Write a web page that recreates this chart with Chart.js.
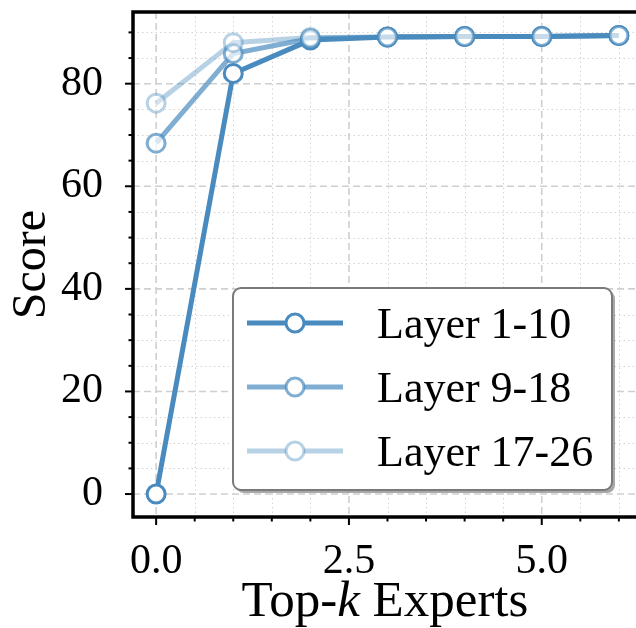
<!DOCTYPE html>
<html>
<head>
<meta charset="utf-8">
<script src="https://cdn.jsdelivr.net/npm/chart.js@4.4.0/dist/chart.umd.min.js"></script>
<style>
  html, body { margin: 0; padding: 0; background: #fff; overflow: hidden; }
  #wrap { width: 636px; height: 628px; overflow: hidden; }
</style>
</head>
<body>
<div id="wrap"><canvas id="chart" width="654" height="628"></canvas></div>
<script>
var TOP_K = [0, 1, 2, 3, 4, 5, 6];
var LAYER_1_10 = [0.0, 82.0, 88.5, 89.1, 89.2, 89.2, 89.4];
var LAYER_9_18 = [68.4, 85.9, 88.8, 89.1, 89.2, 89.2, 89.4];
var LAYER_17_26 = [76.2, 88.0, 89.0, 89.1, 89.2, 89.2, 89.4];

var SERIES_LABELS = ['Layer 1-10', 'Layer 9-18', 'Layer 17-26'];
var SERIES_ALPHA = [1.0, 0.7, 0.4];
var BASE_RGB = '74,139,191';

var X_TICKS = [0, 2.5, 5.0];
var Y_TICKS = [0, 20, 40, 60, 80];
var X_MINOR_STEP = 0.5;
var Y_MINOR_STEP = 5;

var SERIF = '"Liberation Serif", "Times New Roman", serif';

function rgba(a) { return 'rgba(' + BASE_RGB + ',' + a + ')'; }

function toPoints(ys) {
    return ys.map(function(y, i) { return {x: TOP_K[i], y: y}; });
}

function makeDataset(i, ys) {
    return {
        label: SERIES_LABELS[i],
        data: toPoints(ys),
        borderColor: rgba(SERIES_ALPHA[i]),
        borderWidth: 5,
        pointRadius: 9,
        pointBorderWidth: 3,
        pointBorderColor: rgba(SERIES_ALPHA[i]),
        pointBackgroundColor: 'rgba(255,255,255,' + SERIES_ALPHA[i] + ')',
        tension: 0,
        order: 3 - i
    };
}

// values between the axis limits on a step, used for minor ticks / dotted grid
function stepValues(scale, step) {
    var out = [];
    var start = Math.ceil(scale.min / step) * step;
    for (var v = start; v <= scale.max + 1e-9; v += step) out.push(Math.round(v * 1000) / 1000);
    return out;
}

var gridPlugin = {
    id: 'mplGrid',
    beforeDatasetsDraw: function(chart) {
        var c = chart.ctx, a = chart.chartArea;
        var xs = chart.scales.x, ys = chart.scales.y;
        c.save();
        // minor dotted
        c.strokeStyle = '#d4d4d4';
        c.lineWidth = 1;
        c.setLineDash([1.5, 3]);
        stepValues(xs, X_MINOR_STEP).forEach(function(v) {
            if (X_TICKS.indexOf(v) >= 0) return;
            var px = Math.round(xs.getPixelForValue(v)) + 0.5;
            c.beginPath(); c.moveTo(px, a.top); c.lineTo(px, a.bottom); c.stroke();
        });
        stepValues(ys, Y_MINOR_STEP).forEach(function(v) {
            if (Y_TICKS.indexOf(v) >= 0) return;
            var py = Math.round(ys.getPixelForValue(v)) + 0.5;
            c.beginPath(); c.moveTo(a.left, py); c.lineTo(a.right, py); c.stroke();
        });
        // major dashed
        c.strokeStyle = '#cfcfcf';
        c.lineWidth = 1.6;
        c.setLineDash([7, 4]);
        X_TICKS.forEach(function(v) {
            var px = xs.getPixelForValue(v);
            c.beginPath(); c.moveTo(px, a.top); c.lineTo(px, a.bottom); c.stroke();
        });
        Y_TICKS.forEach(function(v) {
            var py = ys.getPixelForValue(v);
            c.beginPath(); c.moveTo(a.left, py); c.lineTo(a.right, py); c.stroke();
        });
        c.restore();
    }
};

var framePlugin = {
    id: 'mplFrame',
    afterDatasetsDraw: function(chart) {
        var c = chart.ctx, a = chart.chartArea;
        var xs = chart.scales.x, ys = chart.scales.y;
        c.save();
        c.strokeStyle = '#000';
        c.lineWidth = 2;
        c.setLineDash([]);
        stepValues(xs, X_MINOR_STEP).forEach(function(v) {
            var len = X_TICKS.indexOf(v) >= 0 ? 8 : 4.5;
            var px = xs.getPixelForValue(v);
            c.beginPath(); c.moveTo(px, a.bottom); c.lineTo(px, a.bottom + len); c.stroke();
        });
        stepValues(ys, Y_MINOR_STEP).forEach(function(v) {
            var len = Y_TICKS.indexOf(v) >= 0 ? 8 : 4.5;
            var py = ys.getPixelForValue(v);
            c.beginPath(); c.moveTo(a.left, py); c.lineTo(a.left - len, py); c.stroke();
        });
        c.lineWidth = 3.5;
        c.strokeRect(a.left, a.top, a.right - a.left, a.bottom - a.top);
        c.restore();
    }
};

var xTitlePlugin = {
    id: 'xTitle',
    afterDraw: function(chart) {
        var c = chart.ctx;
        var parts = [['Top-', ''], ['k', 'italic '], [' Experts', '']];
        var size = 51;
        c.save();
        c.fillStyle = '#000';
        c.textBaseline = 'alphabetic';
        var total = 0;
        parts.forEach(function(p) { c.font = p[1] + size + 'px ' + SERIF; total += c.measureText(p[0]).width; });
        var x = 385 - total / 2;
        parts.forEach(function(p) {
            c.font = p[1] + size + 'px ' + SERIF;
            c.fillText(p[0], x, 616);
            x += c.measureText(p[0]).width;
        });
        c.restore();
    }
};

var legendPlugin = {
    id: 'boxLegend',
    afterDraw: function(chart) {
        var c = chart.ctx;
        var box = {x: 233, y: 288, w: 379, h: 202, r: 8};
        c.save();
        function rr(x, y, w, h, r) {
            c.beginPath();
            c.moveTo(x + r, y);
            c.arcTo(x + w, y, x + w, y + h, r);
            c.arcTo(x + w, y + h, x, y + h, r);
            c.arcTo(x, y + h, x, y, r);
            c.arcTo(x, y, x + w, y, r);
            c.closePath();
        }
        rr(box.x + 3, box.y + 3, box.w, box.h, box.r);
        c.fillStyle = 'rgba(110,110,110,0.6)';
        c.fill();
        rr(box.x, box.y, box.w, box.h, box.r);
        c.fillStyle = '#fff';
        c.fill();
        c.strokeStyle = '#7a7a7a';
        c.lineWidth = 2;
        c.stroke();

        chart.data.datasets.forEach(function(ds, i) {
            var cy = 323 + i * 64;
            c.strokeStyle = ds.borderColor;
            c.lineWidth = 5;
            c.beginPath(); c.moveTo(247, cy); c.lineTo(343, cy); c.stroke();
            c.beginPath();
            c.arc(295, cy, 9, 0, Math.PI * 2);
            c.fillStyle = '#fff';
            c.fill();
            c.lineWidth = 3;
            c.strokeStyle = ds.pointBorderColor;
            c.stroke();
            c.fillStyle = '#000';
            c.font = '44px ' + SERIF;
            c.textBaseline = 'alphabetic';
            c.fillText(ds.label, 377, cy + 15);
        });
        c.restore();
    }
};

function noPad(s) {
    s.paddingTop = 0; s.paddingBottom = 0; s.paddingLeft = 0; s.paddingRight = 0;
}

var ctx = document.getElementById('chart').getContext('2d');
new Chart(ctx, {
    type: 'line',
    data: {
        datasets: [
            makeDataset(0, LAYER_1_10),
            makeDataset(1, LAYER_9_18),
            makeDataset(2, LAYER_17_26)
        ]
    },
    options: {
        responsive: false,
        animation: false,
        layout: { padding: { top: 11, right: 5, left: 0, bottom: 0 } },
        plugins: { legend: { display: false }, tooltip: { enabled: false } },
        scales: {
            x: {
                type: 'linear',
                min: -0.3,
                max: 6.3,
                grid: { display: false },
                border: { display: false },
                afterBuildTicks: function(s) { s.ticks = X_TICKS.map(function(v) { return {value: v}; }); },
                afterFit: function(s) { s.height = 111; noPad(s); },
                ticks: {
                    autoSkip: false,
                    maxRotation: 0,
                    padding: 12,
                    color: '#000',
                    font: { family: SERIF, size: 42 },
                    callback: function(v) { return v.toFixed(1); }
                }
            },
            y: {
                min: -4.475,
                max: 93.975,
                grid: { display: false },
                border: { display: false },
                afterBuildTicks: function(s) { s.ticks = Y_TICKS.map(function(v) { return {value: v}; }); },
                afterFit: function(s) { s.width = 133; noPad(s); },
                ticks: {
                    autoSkip: false,
                    padding: 22,
                    color: '#000',
                    font: { family: SERIF, size: 42 },
                    callback: function(v) { return String(v); }
                },
                title: {
                    display: true,
                    text: 'Score',
                    color: '#000',
                    font: { family: SERIF, size: 48 },
                    padding: { top: 4, bottom: 0 }
                }
            }
        }
    },
    plugins: [gridPlugin, framePlugin, xTitlePlugin, legendPlugin]
});
</script>
</body>
</html>
